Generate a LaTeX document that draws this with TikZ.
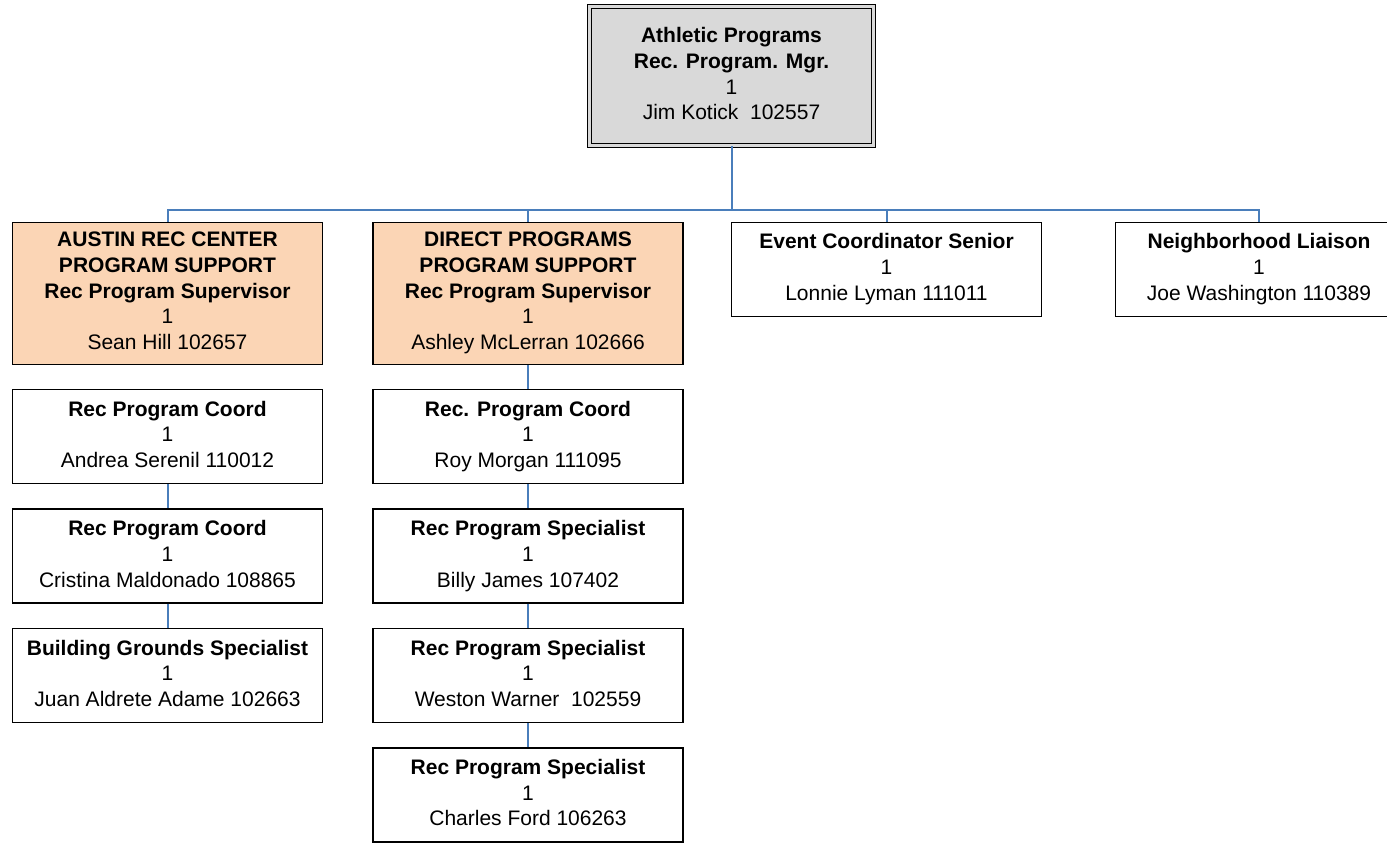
\documentclass[tikz,border=0pt]{standalone}
\usepackage{fontspec}
\setmainfont{Liberation Sans}
\usepackage{xcolor}
\usetikzlibrary{positioning}
\definecolor{peach}{HTML}{FBD5B5}
\definecolor{mgrgray}{HTML}{D9D9D9}
\definecolor{linkblue}{HTML}{4A7EBB}
\tikzset{
post/.style={
draw,
line width=1.4pt,
minimum width=310pt,
minimum height=94pt,
inner sep=0pt,
align=center,
fill=white,
font=\fontsize{21}{25.7}\selectfont,
execute at end node={\rule[-4.5pt]{0pt}{0pt}}
},
lead/.style={
post,
fill=peach,
minimum height=142pt
},
head/.style={
post,
fill=mgrgray,
line width=1.2pt,
double=mgrgray,
double distance=2.5pt,
minimum width=284pt,
minimum height=139pt
},
link/.style={
linkblue,
line width=2pt
}
}

\begin{document}
\begin{tikzpicture}[x=1pt,y=1pt]
\useasboundingbox (0,0) rectangle (1387,-843);
\clip (0,0) rectangle (1387,-843);

\node[head](mgr) at (731.5,-76){\textbf{Athletic Programs}\\\textbf{Rec. Program. Mgr.}\\1\\Jim Kotick~ 102557};

\node[lead,anchor=north](austin) at (167.5,-221.5){\textbf{AUSTIN REC CENTER}\\\textbf{PROGRAM SUPPORT}\\\textbf{Rec Program Supervisor}\\1\\Sean Hill 102657};
\node[lead,anchor=north](direct) at (528,-221.5){\textbf{DIRECT PROGRAMS}\\\textbf{PROGRAM SUPPORT}\\\textbf{Rec Program Supervisor}\\1\\Ashley McLerran 102666};
\node[post,anchor=north](event) at (886.5,-221.5){\textbf{Event Coordinator Senior}\\1\\Lonnie Lyman 111011};
\node[post,anchor=north,minimum width=287pt](liaison) at (1259,-221.5){\textbf{Neighborhood Liaison}\\1\\Joe Washington 110389};

\node[post,below=24pt of austin](andrea){\textbf{Rec Program Coord}\\1\\Andrea Serenil 110012};
\node[post,below=24pt of andrea](cristina){\textbf{Rec Program Coord}\\1\\Cristina Maldonado 108865};
\node[post,below=24pt of cristina](juan){\textbf{Building Grounds Specialist}\\1\\Juan Aldrete Adame 102663};

\node[post,below=24pt of direct](roy){\textbf{Rec. Program Coord}\\1\\Roy Morgan 111095};
\node[post,below=24pt of roy](billy){\textbf{Rec Program Specialist}\\1\\Billy James 107402};
\node[post,below=24pt of billy](weston){\textbf{Rec Program Specialist}\\1\\Weston Warner~ 102559};
\node[post,below=24pt of weston](charles){\textbf{Rec Program Specialist}\\1\\Charles Ford 106263};

\coordinate (bus) at (731.5,-209.5);
\foreach \x in {austin,direct,event,liaison}
\draw[link](mgr.south)--(bus)-|(\x.north);

\foreach \x/\y in {direct/roy,roy/billy,billy/weston,weston/charles,andrea/cristina,cristina/juan}
\draw[link](\x)--(\y);
\end{tikzpicture}
\end{document}
